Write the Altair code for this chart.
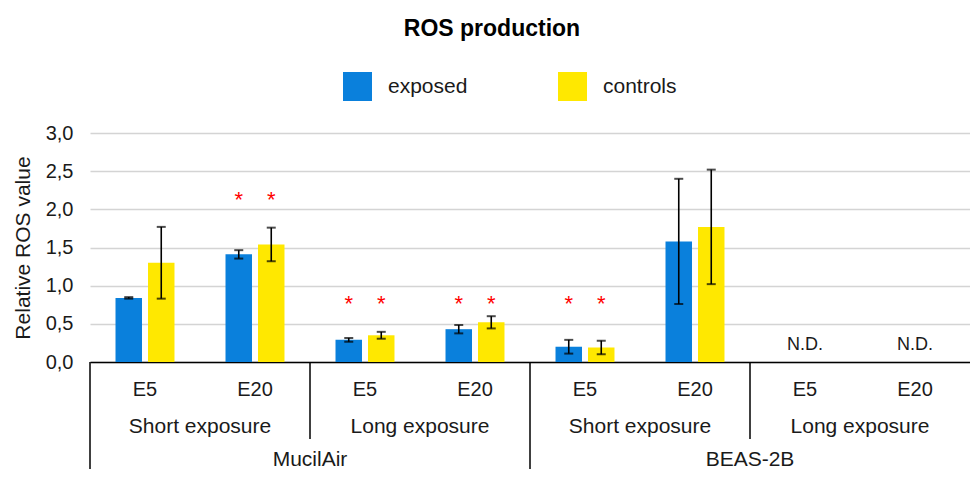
import altair as alt
import pandas as pd

# ---------------- data ----------------
cells = ["MucilAir", "BEAS-2B"]
exposures = ["Short exposure", "Long exposure"]
doses = ["E5", "E20"]
series = ["exposed", "controls"]
series_colors = ["#0A80DC", "#FFE800"]

exposed_mean = [0.84, 1.41, 0.29, 0.43, 0.20, 1.58, None, None]
exposed_err = [0.01, 0.055, 0.025, 0.055, 0.09, 0.82, None, None]
controls_mean = [1.30, 1.54, 0.35, 0.52, 0.19, 1.77, None, None]
controls_err = [0.47, 0.22, 0.045, 0.08, 0.09, 0.75, None, None]
star_level = [None, 2.19, 0.83, 0.83, 0.83, None, None, None]
not_detected = [False, False, False, False, False, False, True, True]
y_ticks = [0.0, 0.5, 1.0, 1.5, 2.0, 2.5, 3.0]

# ---------------- tables ----------------
keys, key_cell, key_exp, key_dose = [], [], [], []
for c in cells:
    for e in exposures:
        for d in doses:
            keys.append(f"{c}|{e}|{d}")
            key_cell.append(c)
            key_exp.append(e)
            key_dose.append(d)

rows = []
for i, k in enumerate(keys):
    for s, means, errs in (("exposed", exposed_mean, exposed_err),
                           ("controls", controls_mean, controls_err)):
        m, er = means[i], errs[i]
        if m is None:
            continue
        rows.append({"key": k, "series": s, "mean": m, "lo": m - er, "hi": m + er,
                     "star": star_level[i]})
bars_df = pd.DataFrame(rows)
stars_df = bars_df.dropna(subset=["star"])
nd_df = pd.DataFrame({"key": [k for k, n in zip(keys, not_detected) if n], "label": "N.D."})
dose_df = pd.DataFrame({"key": keys, "label": key_dose})
# group labels sit on the boundary between the two doses (start of the E20 band)
grp_df = pd.DataFrame({"key": keys[1::2], "label": key_exp[1::2]})
# cell labels sit on the boundary in the middle of their four bands
cell_df = pd.DataFrame({"key": keys[2::4], "label": key_cell[2::4]})
sep_long_df = pd.DataFrame({"key": keys[0::4]})
sep_short_df = pd.DataFrame({"key": keys[2::4]})

# ---------------- shared encodings ----------------
W, H = 880, 229
FONT = "Liberation Sans"
TXT = "#1a1a1a"

xscale = alt.Scale(domain=keys, paddingInner=0, paddingOuter=0)
xaxis = alt.Axis(labels=False, ticks=False, domain=True, domainColor="black",
                 domainWidth=1.6, grid=False, title=None)
yscale = alt.Scale(domain=[0, 3], nice=False)
yaxis = alt.Axis(values=y_ticks, labelExpr="replace(format(datum.value, '.1f'), '.', ',')",
                 domain=False, ticks=False, grid=True, gridColor="#d4d4d4", gridWidth=1.3,
                 labelFontSize=20, labelColor=TXT, labelPadding=17,
                 title="Relative ROS value", titleFontSize=21, titleFontWeight="normal",
                 titleColor=TXT, titlePadding=12)
off = alt.XOffset("series:N", scale=alt.Scale(domain=series, paddingInner=0.185, paddingOuter=0.785))


def X(**kw):
    return alt.X("key:N", scale=xscale, axis=xaxis, title=None, **kw)


def Y(field):
    return alt.Y(field, scale=yscale, axis=yaxis, title="Relative ROS value")


bars = alt.Chart(bars_df).mark_bar().encode(
    x=X(), xOffset=off, y=Y("mean:Q"),
    color=alt.Color("series:N", scale=alt.Scale(domain=series, range=series_colors),
                    legend=alt.Legend(orient="none", legendX=253, legendY=-61,
                                      direction="horizontal", title=None,
                                      symbolType="square", symbolSize=841,
                                      symbolStrokeWidth=0, labelFontSize=21,
                                      labelColor=TXT, labelOffset=16, columnPadding=90,
                                      padding=0)),
)

err = alt.Chart(bars_df).mark_rule(color="black", strokeWidth=1.6).encode(
    x=X(), xOffset=off, y=Y("lo:Q"), y2="hi:Q")
cap_lo = alt.Chart(bars_df).mark_tick(color="black", size=9, thickness=2).encode(
    x=X(), xOffset=off, y=Y("lo:Q"))
cap_hi = alt.Chart(bars_df).mark_tick(color="black", size=9, thickness=2).encode(
    x=X(), xOffset=off, y=Y("hi:Q"))

stars = alt.Chart(stars_df).mark_text(text="*", color="#FF0000", fontSize=22,
                                       baseline="alphabetic", dy=12).encode(
    x=X(), xOffset=off, y=Y("star:Q"))

nd = alt.Chart(nd_df).mark_text(fontSize=18, color=TXT, baseline="alphabetic", dy=-12).encode(
    x=X(), y=alt.Y(datum=0, scale=yscale, axis=yaxis, title="Relative ROS value"),
    text="label:N")

sep_long = alt.Chart(sep_long_df).mark_rule(color="black", strokeWidth=1.5).encode(
    x=X(bandPosition=0), y=alt.value(H), y2=alt.value(H + 140))
sep_short = alt.Chart(sep_short_df).mark_rule(color="black", strokeWidth=1.5).encode(
    x=X(bandPosition=0), y=alt.value(H), y2=alt.value(H + 77))

dose_txt = alt.Chart(dose_df).mark_text(fontSize=20, color=TXT, baseline="middle").encode(
    x=X(), y=alt.value(H + 28), text="label:N")
grp_txt = alt.Chart(grp_df).mark_text(fontSize=21, color=TXT, baseline="middle").encode(
    x=X(bandPosition=0), y=alt.value(H + 65), text="label:N")
cell_txt = alt.Chart(cell_df).mark_text(fontSize=21, color=TXT, baseline="middle").encode(
    x=X(bandPosition=0), y=alt.value(H + 98), text="label:N")

chart = alt.layer(
    bars, err, cap_lo, cap_hi, stars, nd, sep_long, sep_short, dose_txt, grp_txt, cell_txt
).properties(
    width=W, height=H,
    autosize=alt.AutoSizeParams(type="none"),
    padding={"left": 82, "top": 125, "right": 0, "bottom": 107},
    title=alt.TitleParams("ROS production", anchor="middle", frame="group", dx=-38,
                          offset=31, fontSize=23, fontWeight="bold", color="black"),
).configure(font=FONT).configure_view(strokeWidth=0)

chart.save("out.html", embed_options={"renderer": "svg", "actions": False})
